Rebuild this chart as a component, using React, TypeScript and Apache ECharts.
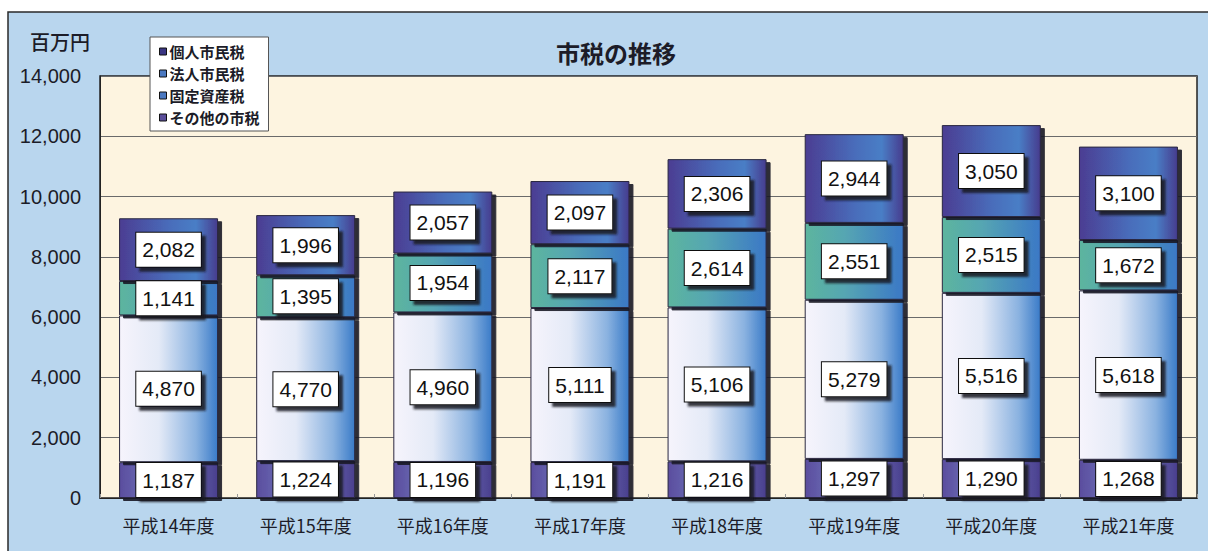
import React, { useEffect, useRef } from "react";
import * as echarts from "echarts";

const categories = ["平成14年度", "平成15年度", "平成16年度", "平成17年度", "平成18年度", "平成19年度", "平成20年度", "平成21年度"];
const sonota = [1187, 1224, 1196, 1191, 1216, 1297, 1290, 1268];
const kotei = [4870, 4770, 4960, 5111, 5106, 5279, 5516, 5618];
const hojin = [1141, 1395, 1954, 2117, 2614, 2551, 2515, 1672];
const kojin = [2082, 1996, 2057, 2097, 2306, 2944, 3050, 3100];
const legendOrder = ["個人市民税", "法人市民税", "固定資産税", "その他の市税"];
const yTicks = { min: 0, max: 14000, interval: 2000 };

const NUM_FONT = "'Liberation Sans', Arial, sans-serif";
const JP_FONT = "'Noto Sans CJK JP', sans-serif";

function grad(stops: [number, string][]) {
  return new echarts.graphic.LinearGradient(0, 0, 1, 0, stops.map(([offset, color]) => ({ offset, color })));
}

export default function App() {
  const ref = useRef<HTMLDivElement>(null);
  useEffect(() => {
    if (!ref.current) return;
    const chart = echarts.init(ref.current, null, { renderer: "svg" });
    const label = {
      show: true,
      position: "inside",
      formatter: (p: any) => Number(p.value).toLocaleString("en-US"),
      fontFamily: NUM_FONT,
      fontSize: 21,
      lineHeight: 23,
      color: "#111",
      backgroundColor: "#ffffff",
      borderColor: "#111",
      borderWidth: 1,
      padding: [6, 6, 5, 6],
      shadowColor: "rgba(20,20,30,0.85)",
      shadowOffsetX: 4,
      shadowOffsetY: 4,
      shadowBlur: 2,
    };
    const common = {
      type: "bar",
      stack: "tax",
      barWidth: 99,
      label,
    };
    const styleFor = (color: any) => ({
      color,
      borderColor: "#2a2840",
      borderWidth: 1,
      shadowColor: "rgba(25,25,35,0.9)",
      shadowOffsetX: 4,
      shadowOffsetY: 3,
      shadowBlur: 1,
    });
    chart.setOption({
      animation: false,
      backgroundColor: "#ffffff",
      graphic: [
        {
          type: "rect",
          z: -10,
          shape: { x: 8, y: 12, width: 1210, height: 550 },
          style: { fill: "#b9d6ee", stroke: "#2a2a2a", lineWidth: 1.5 },
        },
        {
          type: "text",
          z: 5,
          left: 30,
          top: 31,
          style: { text: "百万円", font: `500 20px ${JP_FONT}`, fill: "#1c1c28" },
        },
        {
          type: "text",
          z: 5,
          left: 556,
          top: 40,
          style: { text: "市税の推移", font: `bold 24px ${JP_FONT}`, fill: "#1c1c28" },
        },
      ],
      legend: {
        orient: "vertical",
        left: 150,
        top: 37,
        data: [
          { name: legendOrder[0], itemStyle: { color: "#3a3582", borderColor: "#111", borderWidth: 1 } },
          { name: legendOrder[1], itemStyle: { color: "#4a78c0", borderColor: "#111", borderWidth: 1 } },
          { name: legendOrder[2], itemStyle: { color: "#4a78c0", borderColor: "#111", borderWidth: 1 } },
          { name: legendOrder[3], itemStyle: { color: "#5a4e9a", borderColor: "#111", borderWidth: 1 } },
        ],
        icon: "rect",
        itemWidth: 7,
        itemHeight: 7,
        itemGap: 7,
        padding: [7, 9, 6, 9],
        backgroundColor: "#ffffff",
        borderColor: "#555",
        borderWidth: 1,
        textStyle: { fontFamily: JP_FONT, fontSize: 15, fontWeight: "bold", color: "#1c1c28", padding: [0, 0, 0, -2] },
      },
      grid: {
        left: 100,
        top: 76,
        right: 11,
        bottom: 53,
        show: true,
        backgroundColor: "#fdf4e0",
        borderColor: "#222",
        borderWidth: 1.5,
      },
      xAxis: {
        type: "category",
        data: categories,
        axisLine: { show: true, lineStyle: { color: "#222", width: 1 } },
        axisTick: { show: true, inside: true, length: 4, lineStyle: { color: "#999" } },
        axisLabel: { fontFamily: JP_FONT, fontSize: 18, color: "#1c1c28", margin: 18 },
      },
      yAxis: {
        type: "value",
        min: yTicks.min,
        max: yTicks.max,
        interval: yTicks.interval,
        axisLine: { show: true, lineStyle: { color: "#222" } },
        axisTick: { show: false },
        splitLine: { show: true, lineStyle: { color: "#6a6a6a", width: 1 } },
        axisLabel: {
          fontFamily: NUM_FONT,
          fontSize: 20,
          color: "#1c1c28",
          margin: 19,
          formatter: (v: number) => v.toLocaleString("en-US"),
        },
      },
      series: [
        {
          ...common,
          name: "その他の市税",
          data: sonota,
          itemStyle: styleFor(grad([[0, "#5a4d9e"], [0.5, "#7b86c8"], [1, "#4a3f8e"]])),
        },
        {
          ...common,
          name: "固定資産税",
          data: kotei,
          itemStyle: styleFor(grad([[0, "#f6f4fc"], [0.4, "#e4eaf7"], [0.78, "#8ab2e0"], [1, "#3a7bc8"]])),
        },
        {
          ...common,
          name: "法人市民税",
          data: hojin,
          itemStyle: styleFor(grad([[0, "#5cb59e"], [0.4, "#56a6b2"], [1, "#3b78c6"]])),
        },
        {
          ...common,
          name: "個人市民税",
          data: kojin,
          itemStyle: styleFor(grad([[0, "#4b3d92"], [0.5, "#4a6cba"], [0.78, "#4a7ec6"], [1, "#463c8e"]])),
        },
      ],
    });
    return () => chart.dispose();
  }, []);
  return <div ref={ref} style={{ position: "absolute", left: 0, top: 0, width: 1208, height: 551 }} />;
}
